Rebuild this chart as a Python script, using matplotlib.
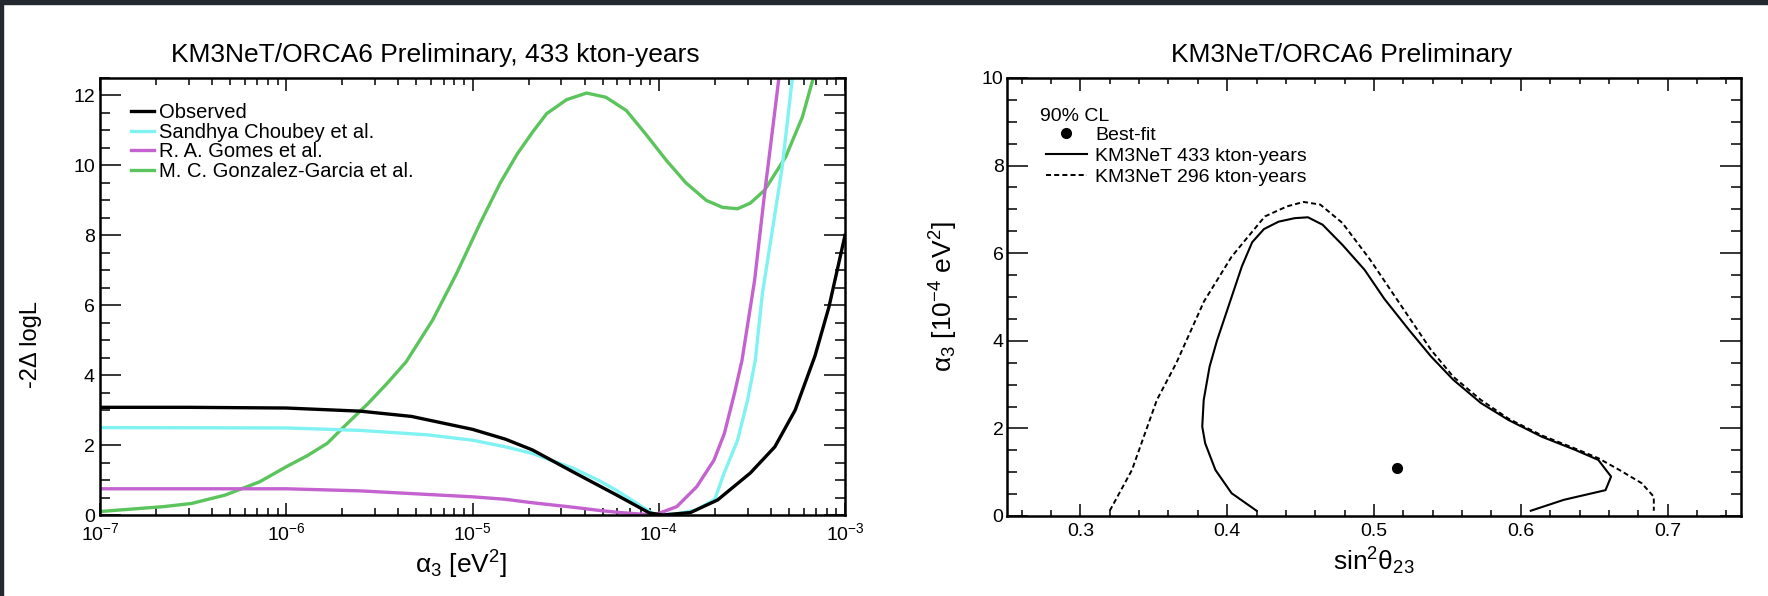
import numpy as np
import matplotlib
matplotlib.use('Agg')
import matplotlib.pyplot as plt
from matplotlib.ticker import LogLocator, MultipleLocator, LogFormatterMathtext, NullFormatter, FuncFormatter
from matplotlib.lines import Line2D
from matplotlib.patches import Rectangle

plt.rcParams['font.family'] = ['Liberation Sans', 'DejaVu Sans']
plt.rcParams['mathtext.fontset'] = 'custom'
plt.rcParams['mathtext.rm'] = 'Liberation Sans'
plt.rcParams['mathtext.it'] = 'Liberation Sans:italic'
plt.rcParams['mathtext.bf'] = 'Liberation Sans:bold'
plt.rcParams['mathtext.default'] = 'regular'

# ---------------- left panel data: -2 Delta logL vs alpha_3 [eV^2] ----------------
obs_x = [1e-7, 3e-7, 1e-6, 2.5e-6, 4.7e-6, 1e-5, 1.5e-5, 2.1e-5, 3.5e-5, 5.9e-5,
         8.9e-5, 1.05e-4, 1.48e-4, 2.07e-4, 3.1e-4, 4.2e-4, 5.4e-4, 6.9e-4, 8.2e-4, 1e-3]
obs_y = [3.08, 3.08, 3.06, 2.97, 2.82, 2.45, 2.17, 1.86, 1.22, 0.58,
         0.06, 0.0, 0.07, 0.43, 1.2, 1.95, 3.0, 4.55, 5.95, 8.0]

cho_x = [1e-7, 1e-6, 2.5e-6, 5.8e-6, 1e-5, 1.5e-5, 2.1e-5, 3.5e-5, 4.8e-5, 5.9e-5,
         9.3e-5, 9.8e-5, 1.25e-4, 1.6e-4, 2.0e-4, 2.24e-4, 2.65e-4, 3.0e-4, 3.3e-4,
         3.6e-4, 4.1e-4, 4.6e-4, 5.2e-4, 5.5e-4]
cho_y = [2.50, 2.49, 2.42, 2.29, 2.14, 1.95, 1.76, 1.33, 0.98, 0.71,
         0.04, 0.0, 0.03, 0.15, 0.45, 1.19, 2.14, 3.29, 4.43,
         6.33, 8.24, 9.95, 12.43, 13.3]

gom_x = [1e-7, 1e-6, 2.5e-6, 1e-5, 1.5e-5, 2.1e-5, 3.5e-5, 4.8e-5, 6.2e-5, 8.9e-5,
         9.5e-5, 1.25e-4, 1.6e-4, 1.98e-4, 2.25e-4, 2.55e-4, 2.8e-4, 3.27e-4, 3.7e-4,
         4.1e-4, 4.4e-4, 4.6e-4]
gom_y = [0.75, 0.75, 0.69, 0.52, 0.45, 0.35, 0.22, 0.13, 0.07, 0.01,
         0.0, 0.24, 0.81, 1.57, 2.33, 3.48, 4.43, 6.71, 9.19,
         11.1, 12.43, 13.3]

gg_x = [1.0e-7, 1.66e-7, 2.2e-7, 3.1e-7, 4.7e-7, 7.2e-7, 1e-6, 1.3e-6, 1.66e-6, 2.0e-6,
        2.75e-6, 3.5e-6, 4.4e-6, 6.1e-6, 8.2e-6, 1.1e-5, 1.41e-5, 1.74e-5, 2.1e-5, 2.5e-5,
        3.2e-5, 4.1e-5, 5.2e-5, 6.7e-5, 8.5e-5, 1.1e-4, 1.4e-4, 1.8e-4, 2.2e-4, 2.65e-4,
        3.1e-4, 3.7e-4, 4.8e-4, 5.9e-4, 6.7e-4, 7.2e-4]
gg_y = [0.10, 0.19, 0.24, 0.33, 0.57, 0.95, 1.38, 1.70, 2.05, 2.48,
        3.19, 3.78, 4.38, 5.57, 6.90, 8.35, 9.50, 10.33, 10.95, 11.48,
        11.88, 12.07, 11.95, 11.57, 10.90, 10.14, 9.50, 9.00, 8.80, 8.76,
        8.92, 9.29, 10.24, 11.38, 12.43, 13.0]

left_labels = ['Observed', 'Sandhya Choubey et al.', 'R. A. Gomes et al.',
               'M. C. Gonzalez-Garcia et al.']
left_colors = ['#000000', '#80f2f2', '#c462cf', '#5cc45c']

# ---------------- right panel data: 90% CL contours ----------------
c433_s2 = [0.420, 0.403, 0.392, 0.385, 0.383, 0.384, 0.388, 0.393, 0.398, 0.404,
           0.410, 0.417, 0.425, 0.435, 0.446, 0.455, 0.465, 0.4785, 0.4936, 0.5070,
           0.5238, 0.5389, 0.5540, 0.5728, 0.5917, 0.6143, 0.6370, 0.6528, 0.6615,
           0.6577, 0.6294, 0.6068]
c433_a3 = [0.12, 0.52, 1.05, 1.66, 2.04, 2.65, 3.41, 4.00, 4.50, 5.10,
           5.70, 6.25, 6.55, 6.72, 6.80, 6.82, 6.65, 6.19, 5.62, 4.96,
           4.25, 3.64, 3.11, 2.58, 2.19, 1.81, 1.51, 1.28, 0.90,
           0.59, 0.37, 0.12]

c296_s2 = [0.320, 0.3351, 0.3521, 0.3653, 0.3842, 0.403, 0.4143, 0.4257, 0.4408,
           0.4521, 0.4634, 0.4785, 0.4974, 0.5143, 0.5389, 0.5540, 0.5728, 0.5917,
           0.6143, 0.6370, 0.6528, 0.6672, 0.6823, 0.6906, 0.6906]
c296_a3 = [0.12, 1.05, 2.65, 3.49, 4.90, 5.92, 6.38, 6.84, 7.07,
           7.17, 7.11, 6.69, 5.85, 5.01, 3.79, 3.18, 2.65, 2.22,
           1.84, 1.54, 1.32, 1.05, 0.75, 0.44, 0.12]

bf_s2 = [0.516]
bf_a3 = [1.1]

right_labels = ['Best-fit', 'KM3NeT 433 kton-years', 'KM3NeT 296 kton-years']

# ---------------- figure ----------------
W, H = 1768, 596
fig = plt.figure(figsize=(W / 100, H / 100), dpi=100)
fig.patch.set_facecolor('white')


def px_axes(l, t, r, b):
    return [l / W, 1 - b / H, (r - l) / W, (b - t) / H]


fig.add_artist(Rectangle((0, 1 - 4 / H), 1, 4 / H, transform=fig.transFigure,
                         color='#24292f', zorder=10))
fig.add_artist(Rectangle((0, 0), 3 / W, 1, transform=fig.transFigure,
                         color='#24292f', zorder=10))

ax1 = fig.add_axes(px_axes(100, 78, 845, 515))
ax2 = fig.add_axes(px_axes(1007, 78, 1741, 516))

for ax in (ax1, ax2):
    for sp in ax.spines.values():
        sp.set_linewidth(1.8)
    ax.tick_params(which='both', direction='in', top=True, right=True,
                   width=1.1, labelsize=14, colors='black')

# left panel
series = [(obs_x, obs_y), (cho_x, cho_y), (gom_x, gom_y), (gg_x, gg_y)]
order = [3, 1, 2, 0]
lines = {}
for i in order:
    x, y = series[i]
    ln, = ax1.plot(x, y, color=left_colors[i], lw=2.4, label=left_labels[i],
                   solid_joinstyle='round', zorder=2 + (i == 0))
    lines[i] = ln
ax1.set_xscale('log')
ax1.set_xlim(1e-7, 1e-3)
ax1.set_ylim(0, 12.5)
ax1.xaxis.set_major_locator(LogLocator(base=10, numticks=10))
ax1.xaxis.set_minor_locator(LogLocator(base=10, subs=np.arange(2, 10), numticks=100))
ax1.xaxis.set_major_formatter(LogFormatterMathtext())
ax1.xaxis.set_minor_formatter(NullFormatter())
ax1.yaxis.set_major_locator(MultipleLocator(2))
ax1.yaxis.set_minor_locator(MultipleLocator(0.5))
ax1.tick_params(axis='y', which='major', length=15, pad=3.6)
ax1.tick_params(axis='y', which='minor', length=7.2)
ax1.tick_params(axis='x', which='major', length=9, pad=5)
ax1.tick_params(axis='x', which='minor', length=5)
ax1.set_xlabel(r'$\mathrm{\alpha_3\ [eV^2]}$', fontsize=19, va='center')
ax1.xaxis.set_label_coords(0.484, -0.115)
ax1.set_ylabel('-2Δ logL', fontsize=17, va='center')
ax1.yaxis.set_label_coords(-0.092, 0.39)
leg1 = ax1.legend([lines[i] for i in range(4)], left_labels, loc='upper left',
                  bbox_to_anchor=(0.042, 0.942), frameon=False, fontsize=14.5,
                  handlelength=1.15, handletextpad=0.25, labelspacing=0.02,
                  borderpad=0, borderaxespad=0)

# right panel
ax2.plot(c296_s2, c296_a3, color='black', lw=1.4, ls=(0, (2.6, 1.6)))
ax2.plot(c433_s2, c433_a3, color='black', lw=1.5)
ax2.plot(bf_s2, bf_a3, 'o', color='black', ms=7)
ax2.set_xlim(0.25, 0.75)
ax2.set_ylim(0, 10)
ax2.xaxis.set_major_locator(MultipleLocator(0.1))
ax2.xaxis.set_minor_locator(MultipleLocator(0.02))
ax2.yaxis.set_major_locator(MultipleLocator(2))
ax2.yaxis.set_minor_locator(MultipleLocator(0.5))
ax2.xaxis.set_major_formatter(FuncFormatter(lambda v, p: f'{v:g}'))
ax2.tick_params(axis='y', which='major', length=15, pad=2.5)
ax2.tick_params(axis='y', which='minor', length=7.2)
ax2.tick_params(axis='x', which='major', length=9, pad=5)
ax2.tick_params(axis='x', which='minor', length=4.5)
ax2.set_xlabel(r'$\mathrm{sin^2\theta_{23}}$', fontsize=19, va='center')
ax2.xaxis.set_label_coords(0.5, -0.103)
ax2.set_ylabel(r'$\mathrm{\alpha_3\ [10^{-4}\ eV^2]}$', fontsize=19, va='center')
ax2.yaxis.set_label_coords(-0.086, 0.5)
ax2.text(0.045, 0.912, '90% CL', transform=ax2.transAxes, fontsize=14,
         ha='left', va='center')
h_bf = Line2D([], [], marker='o', ls='none', color='black', ms=7)
h_433 = Line2D([], [], color='black', lw=1.5)
h_296 = Line2D([], [], color='black', lw=1.4, ls=(0, (2.6, 1.6)))
leg2 = ax2.legend([h_bf, h_433, h_296], right_labels, loc='upper left',
                  bbox_to_anchor=(0.053, 0.889), frameon=False, fontsize=14,
                  handlelength=2.1, handletextpad=0.45, labelspacing=0.17,
                  borderpad=0, borderaxespad=0)

# titles
fig.text(435 / W, 1 - 62 / H, 'KM3NeT/ORCA6 Preliminary, 433 kton-years',
         fontsize=19, ha='center', va='baseline')
fig.text(1342 / W, 1 - 62 / H, 'KM3NeT/ORCA6 Preliminary',
         fontsize=19, ha='center', va='baseline')

fig.savefig('out.png', dpi=100, facecolor=fig.get_facecolor())
